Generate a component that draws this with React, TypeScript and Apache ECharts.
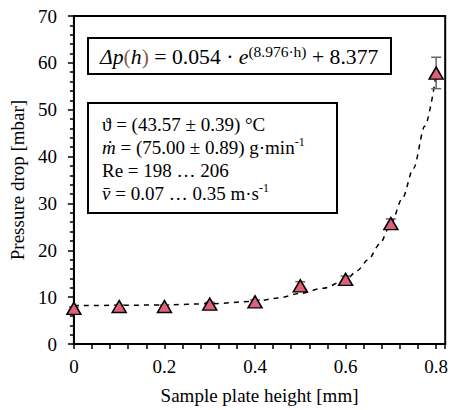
import React, { useEffect, useRef } from "react";
import * as echarts from "echarts";

const heights = [0, 0.1, 0.2, 0.3, 0.4, 0.5, 0.6, 0.7, 0.8];
const pressure = [7.6, 8.0, 8.0, 8.5, 9.0, 12.4, 13.8, 25.7, 57.8];
const errLow = [7.3, 7.7, 7.7, 8.1, 8.7, 11.5, 13.2, 24.6, 54.5];
const errHigh = [7.9, 8.3, 8.3, 8.9, 9.4, 13.3, 14.5, 26.7, 61.2];

const fitH = [0, 0.1, 0.2, 0.3, 0.4, 0.45, 0.5, 0.55, 0.6, 0.625, 0.65, 0.675, 0.7, 0.725, 0.75, 0.775, 0.8];
const fitP = [8.2, 8.25, 8.35, 8.6, 9.1, 9.8, 10.8, 11.9, 13.6, 15.6, 18.0, 21.3, 25.6, 31.0, 37.5, 46.5, 57.5];

const xTicks = [0, 0.2, 0.4, 0.6, 0.8];
const yTicks = [0, 10, 20, 30, 40, 50, 60, 70];

const xName = "Sample plate height [mm]";
const yName = "Pressure drop [mbar]";

const FONT = "'Liberation Serif', 'Times New Roman', serif";

export default function App() {
  const ref = useRef<HTMLDivElement>(null);
  useEffect(() => {
    document.body.style.margin = "0";
    if (!ref.current) return;
    const chart = echarts.init(ref.current, undefined, { renderer: "svg" });
    const isMajorX = (v: number) => xTicks.some((t) => Math.abs(t - v) < 1e-6);
    chart.setOption({
      animation: false,
      backgroundColor: "#fff",
      textStyle: { fontFamily: FONT },
      grid: { left: 73, right: 4, top: 16, bottom: 64, show: true, borderColor: "#000", borderWidth: 2, backgroundColor: "transparent" },
      xAxis: {
        type: "value",
        min: 0,
        max: 0.82,
        interval: 0.04,
        name: xName,
        nameLocation: "middle",
        nameGap: 42,
        nameTextStyle: { fontFamily: FONT, fontSize: 19, color: "#000" },
        axisLine: { show: true, lineStyle: { color: "#000", width: 2 } },
        axisTick: { show: true, length: 5, lineStyle: { color: "#000", width: 1.5 } },
        axisLabel: {
          interval: 0,
          margin: 13,
          fontFamily: FONT,
          fontSize: 19,
          color: "#000",
          formatter: (v: number) => (isMajorX(v) ? String(Math.round(v * 10) / 10) : ""),
        },
        splitLine: { show: false },
      },
      yAxis: {
        type: "value",
        min: yTicks[0],
        max: yTicks[yTicks.length - 1],
        interval: 10,
        name: yName,
        nameLocation: "middle",
        nameGap: 43,
        nameTextStyle: { fontFamily: FONT, fontSize: 19, color: "#000" },
        axisLine: { show: true, lineStyle: { color: "#000", width: 2 } },
        axisTick: { show: true, length: 6, lineStyle: { color: "#000", width: 1.5 } },
        minorTick: { show: true, splitNumber: 5, length: 4, lineStyle: { color: "#000", width: 1.5 } },
        axisLabel: { margin: 17, fontFamily: FONT, fontSize: 19, color: "#000" },
        splitLine: { show: false },
      },
      series: [
        {
          type: "line",
          data: fitH.map((h, i) => [h, fitP[i]]),
          smooth: 0.3,
          smoothMonotone: "x",
          showSymbol: false,
          symbol: "none",
          lineStyle: { color: "#000", width: 1.5, type: [5, 5] },
          z: 2,
        },
        {
          type: "custom",
          data: heights.map((h, i) => [h, errLow[i], errHigh[i]]),
          encode: { x: 0, y: [1, 2] },
          z: 3,
          renderItem: (params: any, api: any) => {
            const x = api.value(0);
            const p1 = api.coord([x, api.value(2)]);
            const p2 = api.coord([x, api.value(1)]);
            const w = 5;
            const st = { stroke: "#666", lineWidth: 1.5 };
            return {
              type: "group",
              children: [
                { type: "line", shape: { x1: p1[0], y1: p1[1], x2: p2[0], y2: p2[1] }, style: st },
                { type: "line", shape: { x1: p1[0] - w, y1: p1[1], x2: p1[0] + w, y2: p1[1] }, style: st },
                { type: "line", shape: { x1: p2[0] - w, y1: p2[1], x2: p2[0] + w, y2: p2[1] }, style: st },
              ],
            };
          },
        },
        {
          type: "scatter",
          data: heights.map((h, i) => [h, pressure[i]]),
          symbol: "triangle",
          symbolSize: [14, 12],
          itemStyle: { color: "#E0607A", borderColor: "#000", borderWidth: 1.5, opacity: 1 },
          z: 4,
        },
      ],
      graphic: [
        {
          type: "rect",
          shape: { x: 88, y: 38, width: 303, height: 36 },
          style: { fill: "#fff", stroke: "#000", lineWidth: 2 },
          z: 10,
        },
        {
          type: "text",
          x: 100,
          y: 57,
          z: 11,
          style: {
            text: "{it|Δp}{br|(}{it|h}{br|)}{n| = 0.054 · }{it|e}{sup|(8.976·h)}{n| + 8.377}",
            fontFamily: FONT,
            fontSize: 21.7,
            verticalAlign: "middle",
            rich: {
              it: { fontFamily: FONT, fontSize: 21.7, fontStyle: "italic", fill: "#000" },
              br: { fontFamily: FONT, fontSize: 21.7, fill: "#8a5a50" },
              n: { fontFamily: FONT, fontSize: 21.7, fill: "#000" },
              sup: { fontFamily: FONT, fontSize: 15.5, fill: "#000", padding: [0, 0, 12, 0] },
            },
          },
        },
        {
          type: "rect",
          shape: { x: 88, y: 103, width: 249, height: 110 },
          style: { fill: "#fff", stroke: "#000", lineWidth: 2 },
          z: 10,
        },
        {
          type: "text",
          x: 102,
          y: 124,
          z: 11,
          style: {
            text: "ϑ = (43.57 ± 0.39) °C",
            fontFamily: FONT,
            fontSize: 19,
            fill: "#000",
            verticalAlign: "middle",
          },
        },
        {
          type: "text",
          x: 102,
          y: 147,
          z: 11,
          style: {
            text: "{i|ṁ}{n| = (75.00 ± 0.89) g·min}{s|-1}",
            fontFamily: FONT,
            fontSize: 19,
            verticalAlign: "middle",
            rich: {
              i: { fontFamily: FONT, fontSize: 19, fontStyle: "italic", fill: "#000" },
              n: { fontFamily: FONT, fontSize: 19, fill: "#000" },
              s: { fontFamily: FONT, fontSize: 12, fill: "#000", padding: [0, 0, 10, 0] },
            },
          },
        },
        {
          type: "text",
          x: 102,
          y: 170,
          z: 11,
          style: {
            text: "Re = 198 … 206",
            fontFamily: FONT,
            fontSize: 19,
            fill: "#000",
            verticalAlign: "middle",
          },
        },
        {
          type: "text",
          x: 102,
          y: 193,
          z: 11,
          style: {
            text: "{i|v̄}{n| = 0.07 … 0.35 m·s}{s|-1}",
            fontFamily: FONT,
            fontSize: 19,
            verticalAlign: "middle",
            rich: {
              i: { fontFamily: FONT, fontSize: 19, fontStyle: "italic", fill: "#000" },
              n: { fontFamily: FONT, fontSize: 19, fill: "#000" },
              s: { fontFamily: FONT, fontSize: 12, fill: "#000", padding: [0, 0, 10, 0] },
            },
          },
        },
      ],
    });
    return () => chart.dispose();
  }, []);
  return <div ref={ref} style={{ width: 451, height: 410 }} />;
}
